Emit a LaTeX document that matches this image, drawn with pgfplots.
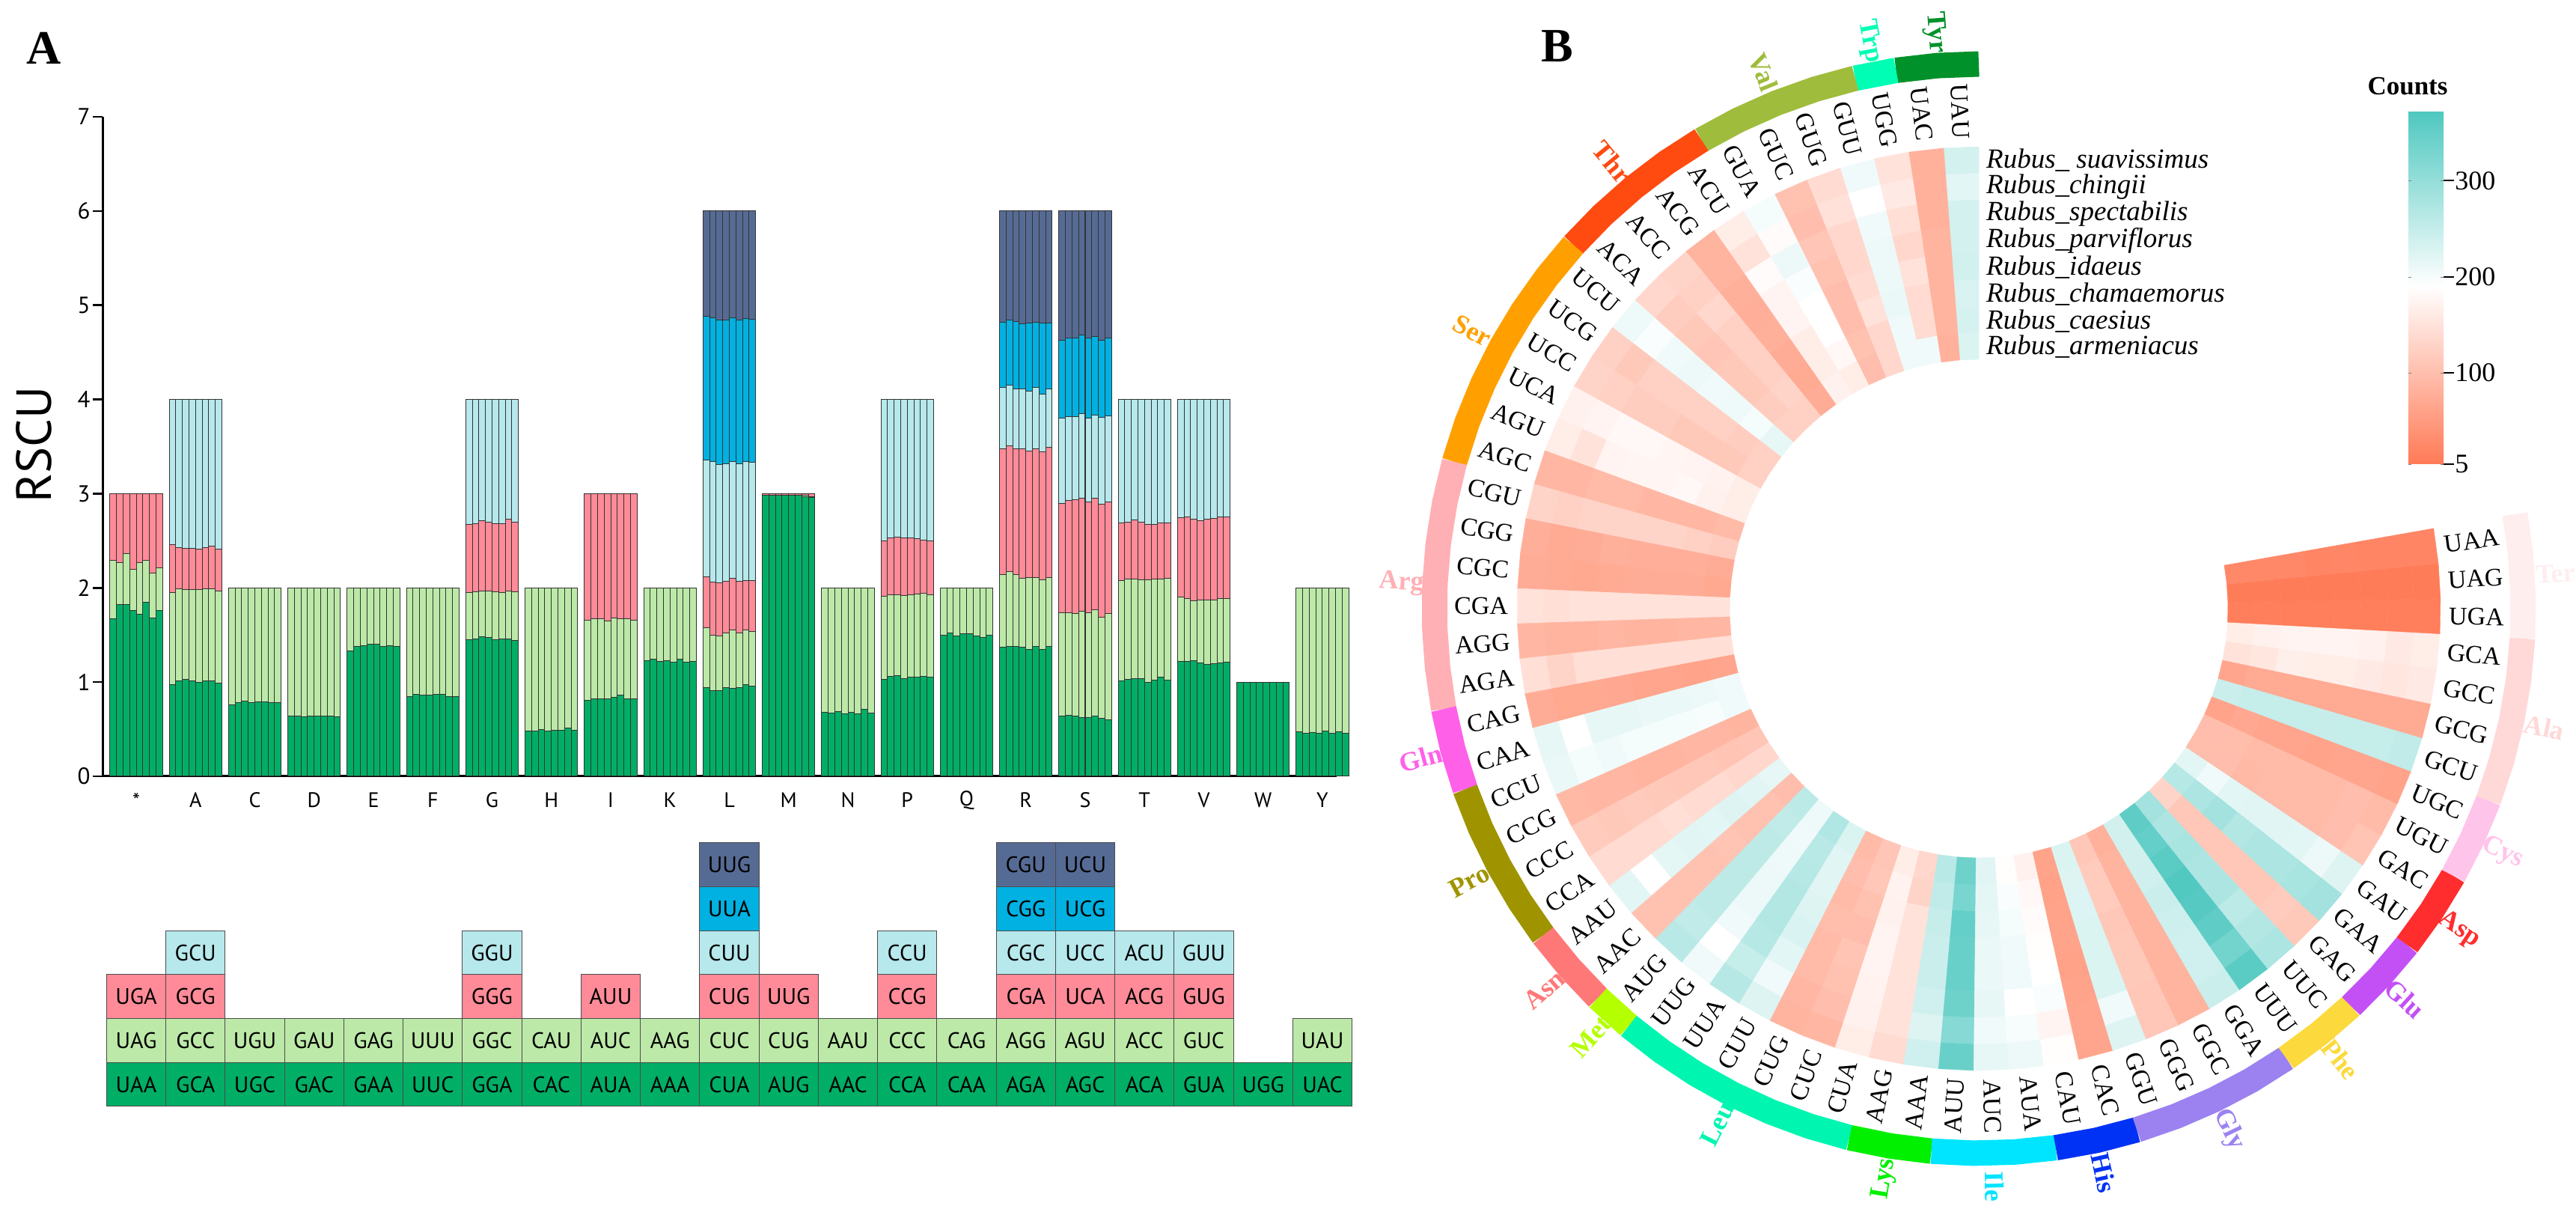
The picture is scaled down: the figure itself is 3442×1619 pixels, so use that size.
\documentclass[border=0pt]{standalone}
\usepackage{fontspec}
\usepackage{pgfplots}
\usepackage{pgfplotstable}
\pgfplotsset{compat=1.18}
\setmainfont{Liberation Serif}
\newfontfamily\sansf{PT Sans}
\newcommand\fs[1]{\fontsize{#1}{#1}\selectfont}

% panel A colours
\definecolor{lvA}{HTML}{00AE66}
\definecolor{lvB}{HTML}{BCE9A8}
\definecolor{lvC}{HTML}{FF8B98}
\definecolor{lvD}{HTML}{B6E8EC}
\definecolor{lvE}{HTML}{00B1E1}
\definecolor{lvF}{HTML}{566B94}
% panel B ring colours
\definecolor{aaTyr}{HTML}{00912A}
\definecolor{aaTrp}{HTML}{00FFB4}
\definecolor{aaVal}{HTML}{A0BC3C}
\definecolor{aaThr}{HTML}{FF4A10}
\definecolor{aaSer}{HTML}{FFA000}
\definecolor{aaArg}{HTML}{FFB0B5}
\definecolor{aaGln}{HTML}{FF60E8}
\definecolor{aaPro}{HTML}{9F9400}
\definecolor{aaAsn}{HTML}{FF7878}
\definecolor{aaMet}{HTML}{B4FF00}
\definecolor{aaLeu}{HTML}{00F5B0}
\definecolor{aaLys}{HTML}{00F000}
\definecolor{aaIle}{HTML}{00E5FF}
\definecolor{aaHis}{HTML}{0032F5}
\definecolor{aaGly}{HTML}{9B82F0}
\definecolor{aaPhe}{HTML}{FCD93C}
\definecolor{aaGlu}{HTML}{C350F5}
\definecolor{aaAsp}{HTML}{FF2D2D}
\definecolor{aaCys}{HTML}{FFC4EA}
\definecolor{aaAla}{HTML}{FFD8D8}
\definecolor{aaTer}{HTML}{FFEEEE}

% running top of each stack level, 8 species per amino acid
\pgfplotstableread{
c1 c2 c3 c4 c5 c6
1.67 2.29 3 3 3 3
1.82 2.27 3 3 3 3
1.82 2.36 3 3 3 3
1.76 2.20 3 3 3 3
1.72 2.27 3 3 3 3
1.85 2.29 3 3 3 3
1.68 2.16 3 3 3 3
1.76 2.21 3 3 3 3
.97 1.95 2.46 4 4 4
1.01 1.99 2.43 4 4 4
1.03 1.98 2.42 4 4 4
1.01 1.98 2.42 4 4 4
1.00 1.98 2.41 4 4 4
1.01 1.99 2.43 4 4 4
1.01 1.99 2.44 4 4 4
.99 1.97 2.41 4 4 4
.76 2 2 2 2 2
.78 2 2 2 2 2
.80 2 2 2 2 2
.78 2 2 2 2 2
.79 2 2 2 2 2
.79 2 2 2 2 2
.78 2 2 2 2 2
.78 2 2 2 2 2
.64 2 2 2 2 2
.64 2 2 2 2 2
.63 2 2 2 2 2
.64 2 2 2 2 2
.64 2 2 2 2 2
.64 2 2 2 2 2
.64 2 2 2 2 2
.63 2 2 2 2 2
1.33 2 2 2 2 2
1.38 2 2 2 2 2
1.39 2 2 2 2 2
1.40 2 2 2 2 2
1.40 2 2 2 2 2
1.38 2 2 2 2 2
1.39 2 2 2 2 2
1.38 2 2 2 2 2
.85 2 2 2 2 2
.87 2 2 2 2 2
.86 2 2 2 2 2
.86 2 2 2 2 2
.87 2 2 2 2 2
.87 2 2 2 2 2
.85 2 2 2 2 2
.85 2 2 2 2 2
1.45 1.95 2.67 4 4 4
1.46 1.96 2.68 4 4 4
1.48 1.97 2.71 4 4 4
1.47 1.97 2.70 4 4 4
1.45 1.96 2.68 4 4 4
1.46 1.95 2.68 4 4 4
1.46 1.97 2.73 4 4 4
1.44 1.96 2.70 4 4 4
.48 2 2 2 2 2
.48 2 2 2 2 2
.50 2 2 2 2 2
.48 2 2 2 2 2
.49 2 2 2 2 2
.49 2 2 2 2 2
.51 2 2 2 2 2
.49 2 2 2 2 2
.81 1.66 3 3 3 3
.82 1.67 3 3 3 3
.82 1.67 3 3 3 3
.82 1.65 3 3 3 3
.84 1.68 3 3 3 3
.86 1.67 3 3 3 3
.82 1.67 3 3 3 3
.82 1.66 3 3 3 3
1.23 2 2 2 2 2
1.24 2 2 2 2 2
1.22 2 2 2 2 2
1.23 2 2 2 2 2
1.21 2 2 2 2 2
1.24 2 2 2 2 2
1.21 2 2 2 2 2
1.22 2 2 2 2 2
.94 1.58 2.12 3.36 4.88 6
.91 1.50 2.06 3.34 4.87 6
.91 1.49 2.05 3.31 4.84 6
.94 1.52 2.07 3.32 4.84 6
.93 1.55 2.10 3.34 4.87 6
.94 1.52 2.07 3.32 4.84 6
.97 1.55 2.08 3.34 4.86 6
.96 1.54 2.08 3.33 4.85 6
2.98 2.985 3 3 3 3
2.98 2.985 3 3 3 3
2.98 2.985 3 3 3 3
2.98 2.985 3 3 3 3
2.98 2.985 3 3 3 3
2.98 2.985 3 3 3 3
2.97 2.98 3 3 3 3
2.96 2.97 3 3 3 3
.68 2 2 2 2 2
.67 2 2 2 2 2
.685 2 2 2 2 2
.66 2 2 2 2 2
.68 2 2 2 2 2
.665 2 2 2 2 2
.715 2 2 2 2 2
.67 2 2 2 2 2
1.03 1.91 2.50 4 4 4
1.06 1.93 2.53 4 4 4
1.07 1.93 2.54 4 4 4
1.04 1.915 2.53 4 4 4
1.05 1.93 2.53 4 4 4
1.055 1.935 2.52 4 4 4
1.06 1.94 2.51 4 4 4
1.055 1.93 2.50 4 4 4
1.50 2 2 2 2 2
1.52 2 2 2 2 2
1.49 2 2 2 2 2
1.51 2 2 2 2 2
1.51 2 2 2 2 2
1.49 2 2 2 2 2
1.47 2 2 2 2 2
1.50 2 2 2 2 2
1.37 2.14 3.48 4.13 4.82 6
1.38 2.17 3.51 4.15 4.84 6
1.38 2.14 3.48 4.11 4.825 6
1.37 2.10 3.48 4.11 4.80 6
1.35 2.11 3.455 4.09 4.81 6
1.375 2.11 3.48 4.13 4.82 6
1.35 2.085 3.445 4.06 4.81 6
1.375 2.11 3.49 4.11 4.81 6
.64 1.735 2.90 3.80 4.63 6
.645 1.74 2.93 3.82 4.655 6
.64 1.73 2.935 3.82 4.655 6
.625 1.75 2.95 3.85 4.685 6
.62 1.735 2.91 3.80 4.655 6
.64 1.765 2.955 3.835 4.67 6
.615 1.685 2.89 3.81 4.625 6
.60 1.73 2.91 3.825 4.65 6
1.01 2.08 2.69 4 4 4
1.03 2.09 2.70 4 4 4
1.035 2.09 2.72 4 4 4
1.035 2.085 2.70 4 4 4
1.00 2.085 2.67 4 4 4
1.02 2.09 2.67 4 4 4
1.05 2.09 2.69 4 4 4
1.02 2.10 2.69 4 4 4
1.22 1.90 2.745 4 4 4
1.22 1.89 2.75 4 4 4
1.225 1.86 2.73 4 4 4
1.20 1.875 2.715 4 4 4
1.19 1.87 2.73 4 4 4
1.195 1.875 2.735 4 4 4
1.205 1.89 2.75 4 4 4
1.215 1.89 2.75 4 4 4
1 1 1 1 1 1
1 1 1 1 1 1
1 1 1 1 1 1
1 1 1 1 1 1
1 1 1 1 1 1
1 1 1 1 1 1
1 1 1 1 1 1
1 1 1 1 1 1
.47 2 2 2 2 2
.46 2 2 2 2 2
.465 2 2 2 2 2
.46 2 2 2 2 2
.48 2 2 2 2 2
.46 2 2 2 2 2
.47 2 2 2 2 2
.46 2 2 2 2 2
}\rscu

% counts per codon, outermost ring (suavissimus) to innermost (armeniacus)
\pgfplotstableread{
cod v1 v2 v3 v4 v5 v6 v7 v8
UAU 235 220 235 235 238 230 232 228
UAC 82 82 82 85 85 85 85 82
UGG 150 160 145 135 150 140 140 205
GUU 205 190 205 210 210 212 205 205
GUG 140 148 135 135 140 150 135 135
GUC 105 100 110 105 100 100 105 100
GUA 200 185 210 195 190 190 180 165
ACU 165 150 185 175 175 165 165 170
ACG 85 85 80 78 80 75 72 75
ACC 130 125 135 125 125 125 130 125
ACA 135 120 115 110 115 115 120 125
UCU 208 195 205 210 205 208 200 215
UCG 125 115 125 125 125 125 120 125
UCC 130 125 120 120 115 115 115 125
UCA 170 175 180 180 178 175 172 165
AGU 165 150 175 178 178 180 170 165
AGC 90 88 95 95 90 90 90 95
CGU 130 125 130 130 130 130 125 120
CGG 78 72 75 80 78 78 78 75
CGC 75 72 70 72 75 75 75 70
CGA 150 145 150 150 150 150 150 150
AGG 90 85 85 88 85 85 88 90
AGA 145 130 145 145 145 145 145 145
CAG 75 70 70 68 65 65 62 65
CAA 215 190 215 215 212 212 210 205
CCU 212 200 205 200 200 200 198 205
CCG 92 90 88 85 85 88 90 85
CCC 118 115 118 115 112 112 108 110
CCA 140 140 140 145 140 140 135 135
AAU 220 190 218 222 220 225 222 215
AAC 105 105 105 105 108 105 105 100
AUG 262 255 258 258 258 258 255 260
UUG 205 190 205 210 210 208 205 208
UUA 265 250 265 270 270 265 262 272
CUU 225 205 220 230 225 222 222 228
CUG 85 90 95 95 98 95 100 95
CUC 90 100 105 108 100 105 112 110
CUA 165 170 172 175 175 170 172 165
AAG 140 150 150 150 150 150 130 135
AAA 240 225 240 245 245 248 255 262
AUU 345 315 340 345 345 350 330 340
AUC 215 205 215 212 212 215 218 222
AUA 210 198 190 205 205 200 195 188
CAU 188 175 195 190 188 185 180 170
CAC 65 65 62 60 62 62 60 62
GGU 225 205 228 228 228 226 225 228
GGG 112 112 115 115 112 118 118 112
GGC 85 85 85 85 85 85 85 82
GGA 245 240 240 242 245 240 238 238
UUU 360 335 355 365 370 360 350 355
UUC 275 270 260 275 275 280 275 285
GAG 115 118 112 112 112 112 112 130
GAA 285 280 275 275 270 285 275 265
GAU 225 210 220 222 222 220 205 220
GAC 108 100 95 95 95 92 100 98
UGU 95 100 95 95 95 95 98 100
UGC 62 65 65 62 65 65 68 62
GCU 255 250 250 248 250 250 250 245
GCG 72 72 72 72 72 72 72 65
GCC 160 155 160 165 165 168 155 150
GCA 165 160 170 175 175 175 170 165
UGA 10 10 10 10 10 10 10 10
UAG 8 8 8 8 8 8 8 8
UAA 20 20 20 22 20 25 25 25
}\heat

% heat cells as rectangles in picture coordinates (centre 2644,806)
\def\cellcoords{}
\pgfplotsforeachungrouped \i in {0,...,63}{%
  \pgfplotsforeachungrouped \k in {1,...,8}{%
    \pgfplotstablegetelem{\i}{v\k}\of\heat
    \let\val\pgfplotsretval
    \pgfmathsetmacro\ta{90+4.375*\i}
    \pgfmathsetmacro\tb{\ta+4.375}
    \pgfmathsetmacro\ro{617-35.5*(\k-1)}
    \pgfmathsetmacro\ri{\ro-35.5}
    \pgfmathsetmacro\xa{2644+\ri*cos(\ta)}\pgfmathsetmacro\ya{806+\ri*sin(\ta)}
    \pgfmathsetmacro\xb{2644+\ro*cos(\ta)}\pgfmathsetmacro\yb{806+\ro*sin(\ta)}
    \pgfmathsetmacro\xc{2644+\ro*cos(\tb)}\pgfmathsetmacro\yc{806+\ro*sin(\tb)}
    \pgfmathsetmacro\xd{2644+\ri*cos(\tb)}\pgfmathsetmacro\yd{806+\ri*sin(\tb)}
    \xdef\cellcoords{\cellcoords (\xa,\ya)[\val] (\xb,\yb)[\val] (\xc,\yc)[\val] (\xd,\yd)[\val]}%
  }%
}

\tikzset{aanode/.style={font=\bfseries\fs{36}, anchor=center, inner sep=0pt}}
\pgfplotsset{
  cellrow/.style={only marks, mark size=0pt, point meta=explicit symbolic, nodes near coords,
    every node near coord/.append style={anchor=center, draw=black!70, line width=1pt, fill=#1,
      minimum width=79.3pt, minimum height=58.7pt, inner sep=0pt, outer sep=0pt,
      text=black, font=\sansf\fs{30}}},
}

\newcommand\aalabel[4]{%
  \pgfmathsetmacro\tha{90+4.375*(#3+#4/2)}%
  \pgfmathsetmacro\rot{\tha<270?\tha-180:\tha}%
  \pgfmathsetmacro\xx{2644+772*cos(\tha)}%
  \pgfmathsetmacro\yy{806+772*sin(\tha)}%
  \edef\doplot{\noexpand\addplot[only marks, mark size=0pt, nodes near coords={#1},
    every node near coord/.append style={aanode, text=#2, rotate=\rot}] coordinates {(\xx,\yy)};}\doplot
}
\newcommand\aaring[4]{%
  \def\ringcoords{}%
  \pgfmathtruncatemacro\ja{#3}\pgfmathtruncatemacro\jb{#3+#4}%
  \pgfplotsforeachungrouped \j in {\ja,...,\jb}{%
    \pgfmathsetmacro\tha{90+4.375*\j}%
    \pgfmathsetmacro\xx{2644+727.5*cos(\tha)}%
    \pgfmathsetmacro\yy{806+727.5*sin(\tha)}%
    \edef\ringcoords{\ringcoords (\xx,\yy)}%
  }%
  \edef\doplot{\noexpand\addplot[#2, line width=34pt, line cap=butt] coordinates {\ringcoords};}\doplot
}
\newcommand\eachaa[1]{%
  #1{Tyr}{aaTyr}{0}{2}#1{Trp}{aaTrp}{2}{1}#1{Val}{aaVal}{3}{4}#1{Thr}{aaThr}{7}{4}%
  #1{Ser}{aaSer}{11}{6}#1{Arg}{aaArg}{17}{6}#1{Gln}{aaGln}{23}{2}#1{Pro}{aaPro}{25}{4}%
  #1{Asn}{aaAsn}{29}{2}#1{Met}{aaMet}{31}{1}#1{Leu}{aaLeu}{32}{6}#1{Lys}{aaLys}{38}{2}%
  #1{Ile}{aaIle}{40}{3}#1{His}{aaHis}{43}{2}#1{Gly}{aaGly}{45}{4}#1{Phe}{aaPhe}{49}{2}%
  #1{Glu}{aaGlu}{51}{2}#1{Asp}{aaAsp}{53}{2}#1{Cys}{aaCys}{55}{2}#1{Ala}{aaAla}{57}{4}%
  #1{Ter}{aaTer}{61}{3}%
}

\begin{document}
\begin{tikzpicture}[x=1pt,y=1pt]
\path[use as bounding box] (0,0) rectangle (3442,1619);

% A: stacked RSCU bars
\begin{axis}[
  at={(137pt,582pt)}, anchor=south west,
  scale only axis, width=1649pt, height=881pt,
  ybar stacked, bar width=8.8pt,
  xmin=-0.568, xmax=20.24, ymin=0, ymax=7,
  clip=false,
  axis x line*=bottom, axis y line*=left,
  axis line style={line width=3pt, -},
  xtick={0,...,20},
  xticklabels={*,A,C,D,E,F,G,H,I,K,L,M,N,P,Q,R,S,T,V,W,Y},
  ytick={0,...,7},
  tick align=outside, major tick length=13pt,
  ytick style={line width=2.5pt, black},
  xtick style={draw=none},
  xticklabel style={font=\sansf\fs{28}, anchor=center, yshift=-19pt},
  yticklabel style={font=\sansf\fs{31}},
  /pgf/number format/assume math mode=true,
  ylabel={RSCU},
  every axis y label/.style={at={(rel axis cs:-0.0558,0.503)}, rotate=90, anchor=center, font=\sansf\fs{66}},
  every axis plot/.append style={draw=black!80, line width=1pt},
]
\addplot[fill=lvA] table[x expr={floor((\coordindex+0.5)/8)+(mod(\coordindex,8)-3.5)/9}, y expr=\thisrow{c1}] {\rscu};
\addplot[fill=lvB] table[x expr={floor((\coordindex+0.5)/8)+(mod(\coordindex,8)-3.5)/9}, y expr=\thisrow{c2}-\thisrow{c1}] {\rscu};
\addplot[fill=lvC] table[x expr={floor((\coordindex+0.5)/8)+(mod(\coordindex,8)-3.5)/9}, y expr=\thisrow{c3}-\thisrow{c2}] {\rscu};
\addplot[fill=lvD] table[x expr={floor((\coordindex+0.5)/8)+(mod(\coordindex,8)-3.5)/9}, y expr=\thisrow{c4}-\thisrow{c3}] {\rscu};
\addplot[fill=lvE] table[x expr={floor((\coordindex+0.5)/8)+(mod(\coordindex,8)-3.5)/9}, y expr=\thisrow{c5}-\thisrow{c4}] {\rscu};
\addplot[fill=lvF] table[x expr={floor((\coordindex+0.5)/8)+(mod(\coordindex,8)-3.5)/9}, y expr=\thisrow{c6}-\thisrow{c5}] {\rscu};
\end{axis}

% A: codon table under the bars
\begin{axis}[
  at={(137pt,141pt)}, anchor=south west,
  scale only axis, width=1649pt, height=352.2pt,
  xmin=-0.568, xmax=20.24, ymin=0, ymax=6,
  clip=false, hide axis,
]
\addplot[cellrow=lvA] table[row sep=\\, x=x, y expr=0.5, meta=c] {x c\\ 0 UAA\\ 1 GCA\\ 2 UGC\\ 3 GAC\\ 4 GAA\\ 5 UUC\\ 6 GGA\\ 7 CAC\\ 8 AUA\\ 9 AAA\\ 10 CUA\\ 11 AUG\\ 12 AAC\\ 13 CCA\\ 14 CAA\\ 15 AGA\\ 16 AGC\\ 17 ACA\\ 18 GUA\\ 19 UGG\\ 20 UAC\\};
\addplot[cellrow=lvB] table[row sep=\\, x=x, y expr=1.5, meta=c] {x c\\ 0 UAG\\ 1 GCC\\ 2 UGU\\ 3 GAU\\ 4 GAG\\ 5 UUU\\ 6 GGC\\ 7 CAU\\ 8 AUC\\ 9 AAG\\ 10 CUC\\ 11 CUG\\ 12 AAU\\ 13 CCC\\ 14 CAG\\ 15 AGG\\ 16 AGU\\ 17 ACC\\ 18 GUC\\ 20 UAU\\};
\addplot[cellrow=lvC] table[row sep=\\, x=x, y expr=2.5, meta=c] {x c\\ 0 UGA\\ 1 GCG\\ 6 GGG\\ 8 AUU\\ 10 CUG\\ 11 UUG\\ 13 CCG\\ 15 CGA\\ 16 UCA\\ 17 ACG\\ 18 GUG\\};
\addplot[cellrow=lvD] table[row sep=\\, x=x, y expr=3.5, meta=c] {x c\\ 1 GCU\\ 6 GGU\\ 10 CUU\\ 13 CCU\\ 15 CGC\\ 16 UCC\\ 17 ACU\\ 18 GUU\\};
\addplot[cellrow=lvE] table[row sep=\\, x=x, y expr=4.5, meta=c] {x c\\ 10 UUA\\ 15 CGG\\ 16 UCG\\};
\addplot[cellrow=lvF] table[row sep=\\, x=x, y expr=5.5, meta=c] {x c\\ 10 UUG\\ 15 CGU\\ 16 UCU\\};
\end{axis}

% B: circular heat map, drawn in picture coordinates
\begin{axis}[
  at={(0pt,0pt)}, anchor=south west,
  scale only axis, width=3442pt, height=1619pt,
  xmin=0, xmax=3442, ymin=0, ymax=1619,
  clip=false, hide axis,
  colormap={coldhot}{rgb255(0)=(255,122,86) rgb255(185)=(255,255,255) rgb255(367)=(79,200,192)},
  point meta min=5, point meta max=372,
  colorbar,
  colorbar/width=47pt,
  colorbar style={
    at={(parent axis.south west)}, anchor=south west, xshift=3209.5pt, yshift=999pt,
    scale only axis, height=471pt,
    ytick={5,100,200,300},
    yticklabel pos=right,
    axis line style={draw=none},
    yticklabel style={font=\fs{36}, inner sep=2pt, xshift=13pt},
    /pgf/number format/assume math mode=true,
  },
]
\edef\doplot{\noexpand\addplot[patch, patch type=rectangle, shader=flat, point meta=explicit] coordinates {\cellcoords};}\doplot
\addplot[only marks, mark size=0pt, point meta=explicit symbolic, nodes near coords,
  visualization depends on={ifthenelse(90+4.375*(\coordindex+0.5)<270, 4.375*(\coordindex+0.5)-90, 90+4.375*(\coordindex+0.5)) \as \rotc},
  every node near coord/.append style={anchor=center, inner sep=0pt, font=\fs{34}, rotate=\rotc}]
  table[x expr={2644+665*cos(90+4.375*(\coordindex+0.5))}, y expr={806+665*sin(90+4.375*(\coordindex+0.5))}, meta=cod] {\heat};
\eachaa\aalabel
\eachaa\aaring
% colour bar tick marks
\addplot[black, line width=2.5pt] coordinates {(3264,1378) (3279,1378)};
\addplot[black, line width=2.5pt] coordinates {(3264,1249) (3279,1249)};
\addplot[black, line width=2.5pt] coordinates {(3264,1121) (3279,1121)};
\addplot[black, line width=2.5pt] coordinates {(3264,999) (3279,999)};
\end{axis}

\node[font=\bfseries\fs{64}] at (59,1555) {A};
\node[font=\bfseries\fs{64}] at (2081,1557) {B};
\node[font=\bfseries\fs{35}] at (3217,1504) {Counts};
\begin{scope}[every node/.style={anchor=west, inner sep=0pt, font=\itshape\fs{37}}]
\node at (2654,1405) {Rubus\_ suavissimus};
\node at (2654,1369) {Rubus\_chingii};
\node at (2654,1333) {Rubus\_spectabilis};
\node at (2654,1298) {Rubus\_parviflorus};
\node at (2654,1262) {Rubus\_idaeus};
\node at (2654,1226) {Rubus\_chamaemorus};
\node at (2654,1190) {Rubus\_caesius};
\node at (2654,1156) {Rubus\_armeniacus};
\end{scope}
\end{tikzpicture}
\end{document}
